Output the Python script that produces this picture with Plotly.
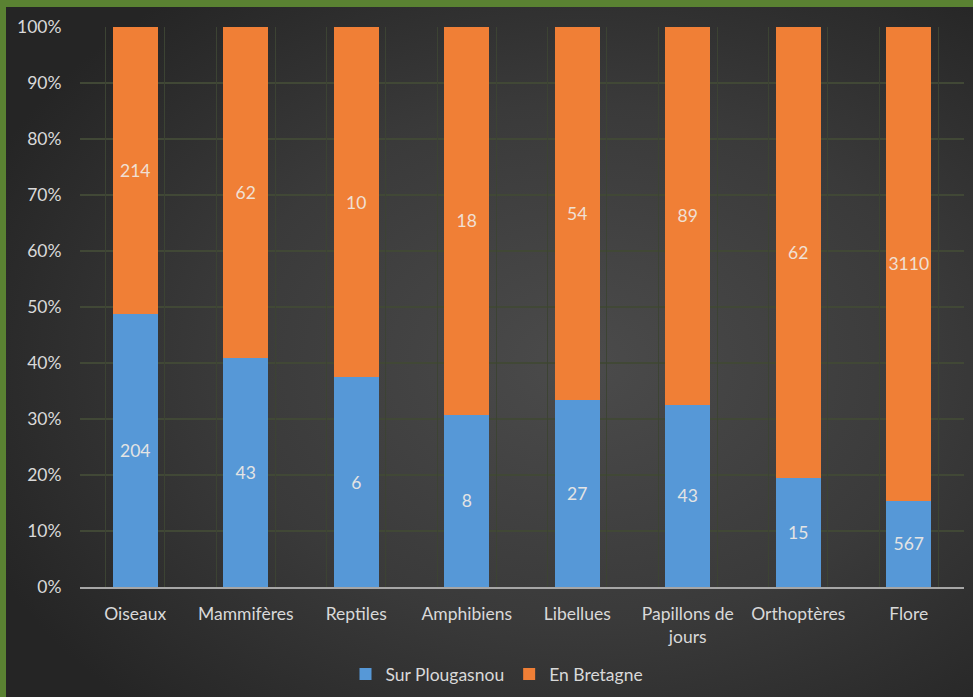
import base64
import plotly.graph_objects as go

categories = ["Oiseaux", "Mammifères", "Reptiles", "Amphibiens", "Libellues",
              "Papillons de<br>jours", "Orthoptères", "Flore"]
plougasnou = [204, 43, 6, 8, 27, 43, 15, 567]
bretagne = [214, 62, 10, 18, 54, 89, 62, 3110]
series_names = ["Sur Plougasnou", "En Bretagne"]

W, H = 973, 697
L, R, T, B = 80, 9, 27, 110
pw, ph = W - L - R, H - T - B

def px_x(p):
    return (p - L) / pw

def px_y(p):
    return (H - B - p) / ph

FONT = "Lato"
TXT = "#d9d9d9"
FS = 17.5
GREEN = "#5a8232"

svg = '''<svg xmlns="http://www.w3.org/2000/svg" viewBox="0 0 1000 720" width="1000" height="720" preserveAspectRatio="none">
<defs><radialGradient id="g" cx="58%" cy="50%" r="65%">
<stop offset="0" stop-color="#4b4b4b"/><stop offset="0.55" stop-color="#3a3a3a"/><stop offset="1" stop-color="#252525"/>
</radialGradient></defs><rect x="0" y="0" width="1000" height="720" fill="url(#g)"/></svg>'''
bg_uri = "data:image/svg+xml;base64," + base64.b64encode(svg.encode()).decode()

fig = go.Figure()
fig.add_trace(go.Bar(x=categories, y=plougasnou, name=series_names[0],
                     marker=dict(color="#5698d7", line=dict(width=0)),
                     text=plougasnou, texttemplate="%{text}", textposition="inside",
                     insidetextanchor="middle", textangle=0, constraintext="none",
                     textfont=dict(color="#e4e4e4", size=FS, family=FONT)))
fig.add_trace(go.Bar(x=categories, y=bretagne, name=series_names[1],
                     marker=dict(color="#f07f36", line=dict(width=0)),
                     text=bretagne, texttemplate="%{text}", textposition="inside",
                     insidetextanchor="middle", textangle=0, constraintext="none",
                     textfont=dict(color="#f0e0d4", size=FS, family=FONT)))
# invisible helper trace for the overlay axis
off = 29.5 / (pw / len(categories))
vgrid = sorted([i - off for i in range(len(categories))] + [i + off for i in range(len(categories))])
fig.add_trace(go.Scatter(x=[-0.5, len(categories) - 0.5], y=[0, 0], xaxis="x2", mode="none",
                         showlegend=False, hoverinfo="skip"))

fig.update_layout(
    width=W, height=H,
    margin=dict(l=L, r=R, t=T, b=B, autoexpand=False),
    barmode="stack", barnorm="percent", bargap=0.59,
    paper_bgcolor="#2a2a2a", plot_bgcolor="rgba(0,0,0,0)",
    font=dict(family=FONT, size=FS, color=TXT),
    images=[dict(source=bg_uri, xref="paper", yref="paper",
                 x=px_x(0), y=px_y(0), sizex=px_x(W + 30) - px_x(0), sizey=px_y(0) - px_y(H + 30),
                 xanchor="left", yanchor="top", sizing="stretch", layer="below")],
    shapes=[
        dict(type="rect", xref="paper", yref="paper", x0=px_x(-5), x1=px_x(W + 5),
             y0=px_y(7), y1=px_y(-5), fillcolor=GREEN, line=dict(width=0), layer="above"),
        dict(type="rect", xref="paper", yref="paper", x0=px_x(-5), x1=px_x(6),
             y0=px_y(H + 5), y1=px_y(-5), fillcolor=GREEN, line=dict(width=0), layer="above"),
    ],
    yaxis=dict(range=[0, 100], dtick=10, ticksuffix="%", showgrid=True,
               gridcolor="#414836", gridwidth=2, zeroline=False, automargin=False,
               ticks="outside", ticklen=14, tickcolor="rgba(0,0,0,0)",
               tickfont=dict(size=FS, color=TXT, family=FONT)),
    xaxis=dict(showgrid=False, showline=True, linecolor="#a6a6a6", linewidth=2,
               automargin=False,
               ticks="outside", ticklen=10, tickcolor="rgba(0,0,0,0)",
               tickfont=dict(size=FS, color=TXT, family=FONT)),
    xaxis2=dict(overlaying="x", range=[-0.5, len(categories) - 0.5], tickvals=vgrid,
                showgrid=True, gridcolor="#3c4333", gridwidth=1, showticklabels=False,
                ticks="", zeroline=False, side="bottom", layer="below traces", automargin=False),
    legend=dict(orientation="h", x=px_x(497), xanchor="center", y=px_y(674), yanchor="middle",
                font=dict(size=FS, color=TXT, family=FONT), itemwidth=30,
                traceorder="normal", bgcolor="rgba(0,0,0,0)"),
    hovermode=False,
)
fig.write_html("out.html", config={"displayModeBar": False},
               post_script="document.body.style.margin='0px';document.body.style.padding='0px';")
